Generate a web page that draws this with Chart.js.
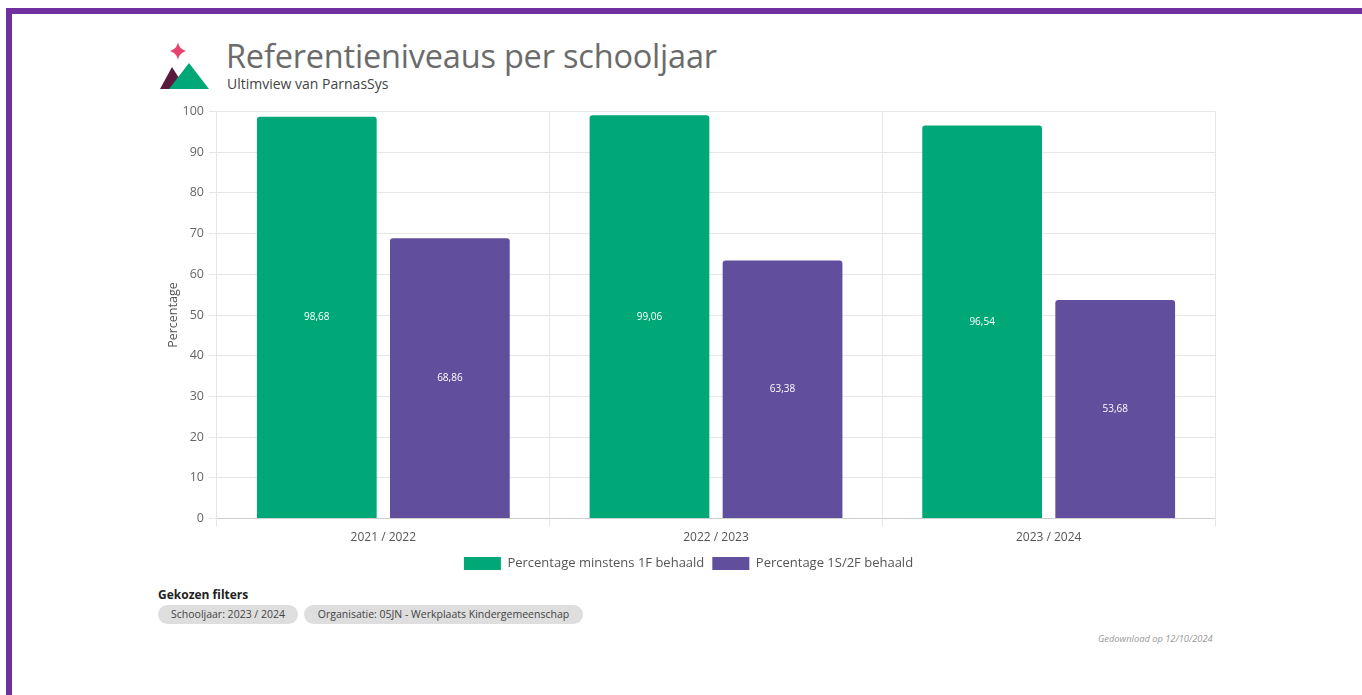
<!DOCTYPE html>
<html>
<head>
<meta charset="utf-8">
<script src="https://cdn.jsdelivr.net/npm/chart.js@4/dist/chart.umd.min.js"></script>
<style>
  html, body { margin: 0; padding: 0; background: #fff; }
  body { width: 1362px; height: 695px; position: relative; overflow: hidden; font-family: "Open Sans", sans-serif; }
  .frame-top { position: absolute; left: 6px; top: 8px; width: 1356px; height: 6px; background: #7030a0; }
  .frame-left { position: absolute; left: 6px; top: 8px; width: 6px; height: 687px; background: #7030a0; }
  .logo { position: absolute; left: 158px; top: 42px; }
  .title { position: absolute; left: 226px; top: 33px; font-size: 32.5px; color: #6b6b6b; letter-spacing: -0.2px; }
  .subtitle { position: absolute; left: 227px; top: 74px; font-size: 14px; color: #444; }
  .chartbox { position: absolute; left: 150px; top: 99px; width: 1075px; height: 481px; }
  .filters-title { position: absolute; left: 158px; top: 586px; font-size: 12px; font-weight: bold; color: #222; }
  .pill { position: absolute; top: 605px; height: 19px; line-height: 19px; border-radius: 10px; background: #dedede; color: #444; font-size: 10.5px; text-align: center; }
  .dl { position: absolute; left: 1098px; top: 632px; font-size: 9.3px; font-style: italic; color: #999; }
</style>
</head>
<body>
<div class="frame-top"></div>
<div class="frame-left"></div>
<svg class="logo" width="52" height="50" viewBox="0 0 52 50">
  <path d="M20 0 C21 5 23 7 28 9 C23 11 21 13 20 18 C19 13 17 11 12 9 C17 7 19 5 20 0 Z" fill="#e8436e"/>
  <path d="M2 47 L14 25 L28 47 Z" fill="#5a1a3e"/>
  <path d="M11 47 L31 21 L51 47 Z" fill="#00a878"/>
</svg>
<div class="title">Referentieniveaus per schooljaar</div>
<div class="subtitle">Ultimview van ParnasSys</div>
<div class="chartbox"><canvas id="chart"></canvas></div>
<div class="filters-title">Gekozen filters</div>
<div class="pill" style="left:158px; width:140px;">Schooljaar: 2023 / 2024</div>
<div class="pill" style="left:304px; width:279px;">Organisatie: 05JN - Werkplaats Kindergemeenschap</div>
<div class="dl">Gedownload op 12/10/2024</div>
<script>
const schoolYears = ['2021 / 2022', '2022 / 2023', '2023 / 2024'];
const minstens1F = [98.68, 99.06, 96.54];
const behaald1S2F = [68.86, 63.38, 53.68];
const seriesLabels = ['Percentage minstens 1F behaald', 'Percentage 1S/2F behaald'];
const yTicks = [0, 10, 20, 30, 40, 50, 60, 70, 80, 90, 100];

const fmt = v => v.toFixed(2).replace('.', ',');

// white value labels in the middle of each bar
const barLabels = {
    id: 'barLabels',
    afterDatasetsDraw(chart) {
        const ctx = chart.ctx;
        ctx.save();
        ctx.fillStyle = '#fff';
        ctx.font = '10px "Open Sans"';
        ctx.textAlign = 'center';
        ctx.textBaseline = 'middle';
        chart.data.datasets.forEach((ds, i) => {
            chart.getDatasetMeta(i).data.forEach((bar, j) => {
                const mid = (bar.y + bar.base) / 2;
                ctx.fillText(fmt(ds.data[j]), bar.x, mid);
            });
        });
        ctx.restore();
    }
};

new Chart(document.getElementById('chart'), {
    type: 'bar',
    data: {
        labels: schoolYears,
        datasets: [{
            label: seriesLabels[0],
            data: minstens1F,
            backgroundColor: '#00a878',
            borderRadius: { topLeft: 3, topRight: 3 },
            borderSkipped: 'bottom'
        }, {
            label: seriesLabels[1],
            data: behaald1S2F,
            backgroundColor: '#614e9c',
            borderRadius: { topLeft: 3, topRight: 3 },
            borderSkipped: 'bottom'
        }]
    },
    options: {
        responsive: true,
        maintainAspectRatio: false,
        animation: false,
        layout: { padding: { top: 1, right: 10, left: 12 } },
        plugins: {
            tooltip: { enabled: false },
            legend: {
                position: 'bottom',
                labels: {
                    boxWidth: 37,
                    boxHeight: 13,
                    color: '#555',
                    font: { family: 'Open Sans', size: 13 },
                    padding: 8
                }
            }
        },
        scales: {
            x: {
                grid: { color: '#e6e6e6' },
                ticks: { color: '#555', font: { family: 'Open Sans', size: 12 }, padding: 4 }
            },
            y: {
                min: 0,
                max: 100,
                afterBuildTicks: s => { s.ticks = yTicks.map(v => ({ value: v })); },
                afterFit: s => { s.width = 55; },
                grid: { color: '#e6e6e6' },
                border: { display: false },
                ticks: { color: '#666', font: { family: 'Open Sans', size: 12.5 }, padding: 5 },
                title: { display: true, text: 'Percentage', color: '#555', font: { family: 'Open Sans', size: 12.5 } }
            }
        }
    },
    plugins: [barLabels]
});
</script>
</body>
</html>
